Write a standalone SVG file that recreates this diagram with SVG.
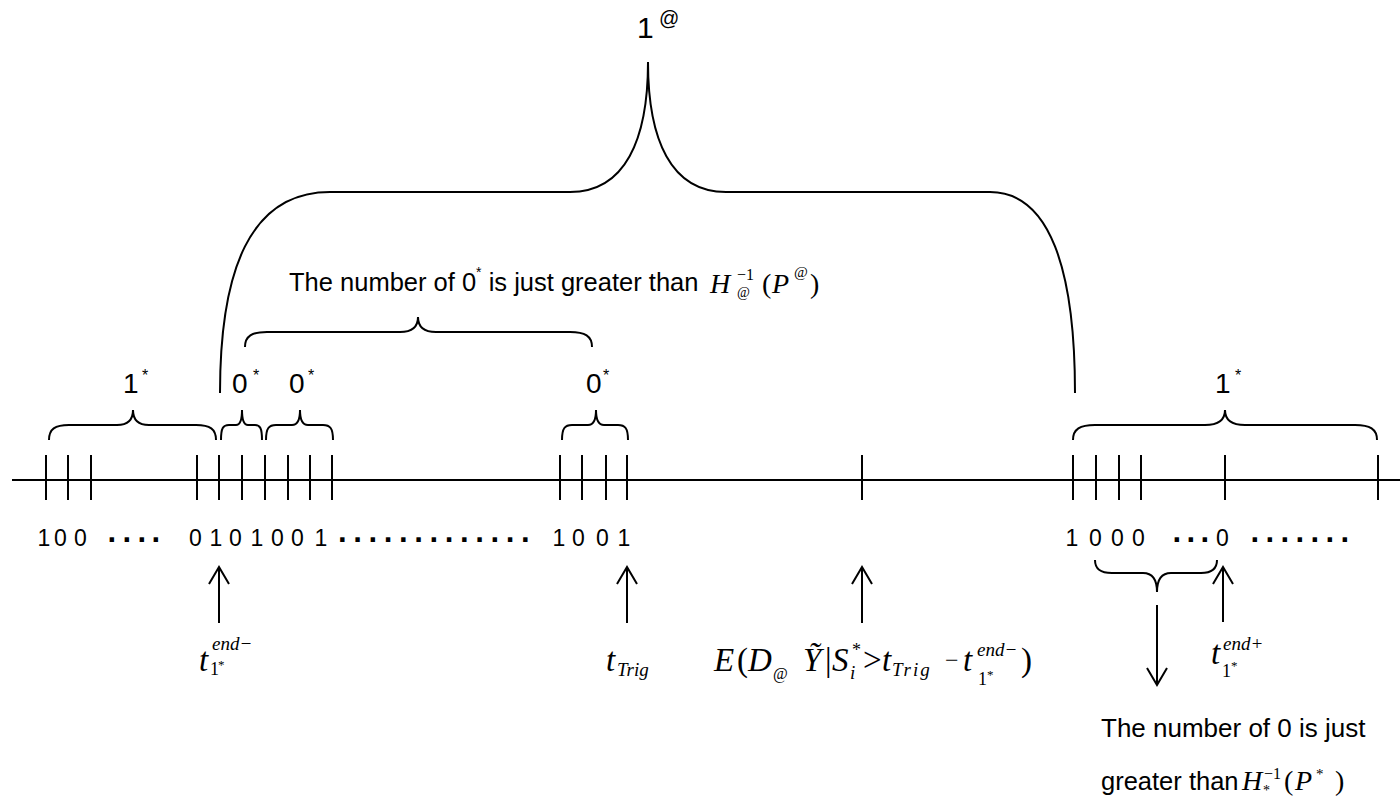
<svg xmlns="http://www.w3.org/2000/svg" width="1400" height="799" viewBox="0 0 1400 799">
<style>
.ln{stroke:#000;stroke-width:2;fill:none}
.sans{font-family:"Liberation Sans",Arial,sans-serif;fill:#000}
.serif{font-family:"Liberation Serif","Times New Roman",serif;fill:#000}
.it{font-style:italic}
.bit{font-family:"Liberation Sans",Arial,sans-serif;font-size:23px;fill:#000}
.dots{font-family:"Liberation Sans",Arial,sans-serif;font-weight:bold;font-size:31px;fill:#000}
</style>
<defs>
<marker id="open" markerUnits="userSpaceOnUse" markerWidth="40" markerHeight="40" viewBox="-20 -20 40 40" refX="0" refY="0" orient="auto" overflow="visible">
<path d="M-17,-10 L0,0 L-17,10" fill="none" stroke="#000" stroke-width="2"/>
</marker>
</defs>
<rect width="1400" height="799" fill="#fff"/>

<g id="axis">
<line class="ln" x1="12" y1="480" x2="1400" y2="480"/>
<path class="ln" d="M46,455V500M68,455V500M91,455V500M197,455V500M219,455V500M242,455V500M265,455V500M288,455V500M310,455V500M332,455V500M560,455V500M582,455V500M606,455V500M627,455V500M862,455V500M1073,455V500M1096,455V500M1119,455V500M1141,455V500M1225,455V500M1378,455V500"/>
</g>

<g id="brace-top-1at">
<path class="ln" d="M220,393 C220,270 250,192 330,192 L570,192 C625,192 648,140 648,62 C648,140 671,192 726,192 L990,192 C1050,192 1075,270 1075,393"/>
<text class="sans" x="637" y="38" font-size="30">1</text>
<text class="sans" x="659" y="25" font-size="20">@</text>
</g>

<g id="brace-left-1star">
<path class="ln" d="M49,440 C49,429 55,425 69,425 L117,425 C127,425 133,420 133,410 C133,420 139,425 149,425 L196,425 C210,425 216,429 216,440"/>
<text class="sans" x="123" y="393" font-size="28">1</text>
<text class="sans" x="142" y="381" font-size="16">*</text>
</g>

<g id="brace-0star-a">
<path class="ln" d="M221,440 C221,428 223,425 229,425 L236,425 C240,425 242,421 242,410 C242,421 244,425 248,425 L255,425 C260,425 262,428 262,440"/>
<text class="sans" x="232" y="393" font-size="28">0</text>
<text class="sans" x="253" y="381" font-size="16">*</text>
</g>

<g id="brace-0star-b">
<path class="ln" d="M266,440 C266,428 269,425 276,425 L292,425 C297,425 300,421 300,410 C300,421 303,425 308,425 L323,425 C330,425 333,428 333,440"/>
<text class="sans" x="289" y="393" font-size="28">0</text>
<text class="sans" x="308" y="381" font-size="16">*</text>
</g>

<g id="brace-0star-c">
<path class="ln" d="M562,440 C562,428 565,425 572,425 L588,425 C593,425 596,421 596,410 C596,421 599,425 604,425 L618,425 C625,425 628,428 628,440"/>
<text class="sans" x="586" y="393" font-size="28">0</text>
<text class="sans" x="603" y="381" font-size="16">*</text>
</g>

<g id="brace-right-1star">
<path class="ln" d="M1073,440 C1073,429 1080,425 1095,425 L1205,425 C1218,425 1225,420 1225,410 C1225,420 1232,425 1245,425 L1355,425 C1370,425 1377,429 1377,440"/>
<text class="sans" x="1215" y="393" font-size="28">1</text>
<text class="sans" x="1235" y="381" font-size="16">*</text>
</g>

<g id="brace-middle">
<path class="ln" d="M245,347 C245,336 252,332 267,332 L400,332 C412,332 418,327 418,317 C418,327 424,332 436,332 L570,332 C585,332 592,336 592,347"/>
<text class="sans" x="289" y="291" font-size="25.5">The number of 0<tspan font-size="14" dy="-14">*</tspan><tspan dy="14"> is just greater than</tspan></text>
<text class="serif it" x="710" y="293" font-size="28">H</text>
<text class="serif" x="737" y="297" font-size="14">@</text>
<text class="serif" x="737" y="280" font-size="16">−1</text>
<text class="serif" x="762" y="293" font-size="28">(</text>
<text class="serif it" x="772" y="293" font-size="28">P</text>
<text class="serif" x="794" y="277" font-size="15">@</text>
<text class="serif" x="810" y="293" font-size="28">)</text>
</g>

<g id="bits">
<text class="bit" y="546" x="37.5 54 74">100</text>
<text class="bit" y="546" x="189 209.5 229 250.5 271 291 314.5">0101001</text>
<text class="bit" y="546" x="552.5 572 596 617.5">1001</text>
<text class="bit" y="546" x="1065.5 1089 1111 1132">1000</text>
<text class="bit" y="546" x="1216">0</text>
<text class="dots" y="549.5" x="107.5 122.5 137.5 151.5">····</text>
<text class="dots" y="549.5" x="338 353.25 368.5 383.75 399 414.25 429.5 444.75 460 475.25 490.5 505.75 521">·············</text>
<text class="dots" y="549.5" x="1172.5 1186.5 1200.5">···</text>
<text class="dots" y="549.5" x="1250.5 1265.5 1280.5 1295.5 1310.5 1325.5 1340.5">·······</text>
</g>

<g id="brace-lower">
<path class="ln" d="M1095,560 C1095,569 1100,573 1112,573 L1143,573 C1152,573 1157,579 1157,592 C1157,579 1162,573 1171,573 L1201,573 C1212,573 1217,569 1217,560"/>
</g>

<g id="connectors">
<line class="ln" x1="219" y1="623" x2="219" y2="567" marker-end="url(#open)"/>
<line class="ln" x1="627" y1="623" x2="627" y2="567" marker-end="url(#open)"/>
<line class="ln" x1="862" y1="623" x2="862" y2="567" marker-end="url(#open)"/>
<line class="ln" x1="1223" y1="622" x2="1223" y2="567" marker-end="url(#open)"/>
<line class="ln" x1="1157" y1="605" x2="1157" y2="685" marker-end="url(#open)"/>
</g>

<g id="label-t-end-minus">
<text class="serif it" x="199" y="671" font-size="33">t</text>
<text class="serif it" x="212" y="650" font-size="19">end−</text>
<text class="serif" x="210" y="675" font-size="18">1</text>
<text class="serif" x="218" y="669" font-size="13">*</text>
</g>

<g id="label-t-trig">
<text class="serif it" x="606" y="671" font-size="33">t</text>
<text class="serif it" x="617" y="676" font-size="19">Trig</text>
</g>

<g id="label-expectation">
<text class="serif it" x="714" y="671" font-size="33">E</text>
<text class="serif" x="737" y="671" font-size="33">(</text>
<text class="serif it" x="748" y="671" font-size="33">D</text>
<text class="serif" x="773" y="679" font-size="16">@</text>
<text class="serif it" x="803" y="671" font-size="33">Ỹ</text>
<text class="serif" x="825" y="671" font-size="33">|</text>
<text class="serif it" x="832" y="671" font-size="33">S</text>
<text class="serif" x="852" y="656" font-size="18">*</text>
<text class="serif it" x="850" y="679" font-size="19">i</text>
<text class="serif" x="863" y="671" font-size="33">&gt;</text>
<text class="serif it" x="882" y="671" font-size="33">t</text>
<text class="serif it" x="892" y="676" font-size="19" letter-spacing="2">Trig</text>
<text class="serif" x="945" y="668" font-size="24">−</text>
<text class="serif it" x="963" y="671" font-size="33">t</text>
<text class="serif it" x="977" y="656" font-size="19">end−</text>
<text class="serif" x="978" y="685" font-size="18">1</text>
<text class="serif" x="987" y="679" font-size="13">*</text>
<text class="serif" x="1021" y="671" font-size="33">)</text>
</g>

<g id="label-t-end-plus">
<text class="serif it" x="1211" y="664" font-size="33">t</text>
<text class="serif it" x="1223" y="650" font-size="19">end+</text>
<text class="serif" x="1222" y="677" font-size="18">1</text>
<text class="serif" x="1231" y="670" font-size="13">*</text>
</g>

<g id="label-lower">
<text class="sans" x="1101" y="737" font-size="26">The number of 0 is just</text>
<text class="sans" x="1101" y="790" font-size="25.5">greater than</text>
<text class="serif it" x="1242" y="790" font-size="28">H</text>
<text class="serif" x="1263" y="795" font-size="14">*</text>
<text class="serif" x="1264" y="779" font-size="16">−1</text>
<text class="serif" x="1284" y="790" font-size="28">(</text>
<text class="serif it" x="1295" y="790" font-size="28">P</text>
<text class="serif" x="1316" y="779" font-size="15">*</text>
<text class="serif" x="1335" y="790" font-size="28">)</text>
</g>
</svg>
